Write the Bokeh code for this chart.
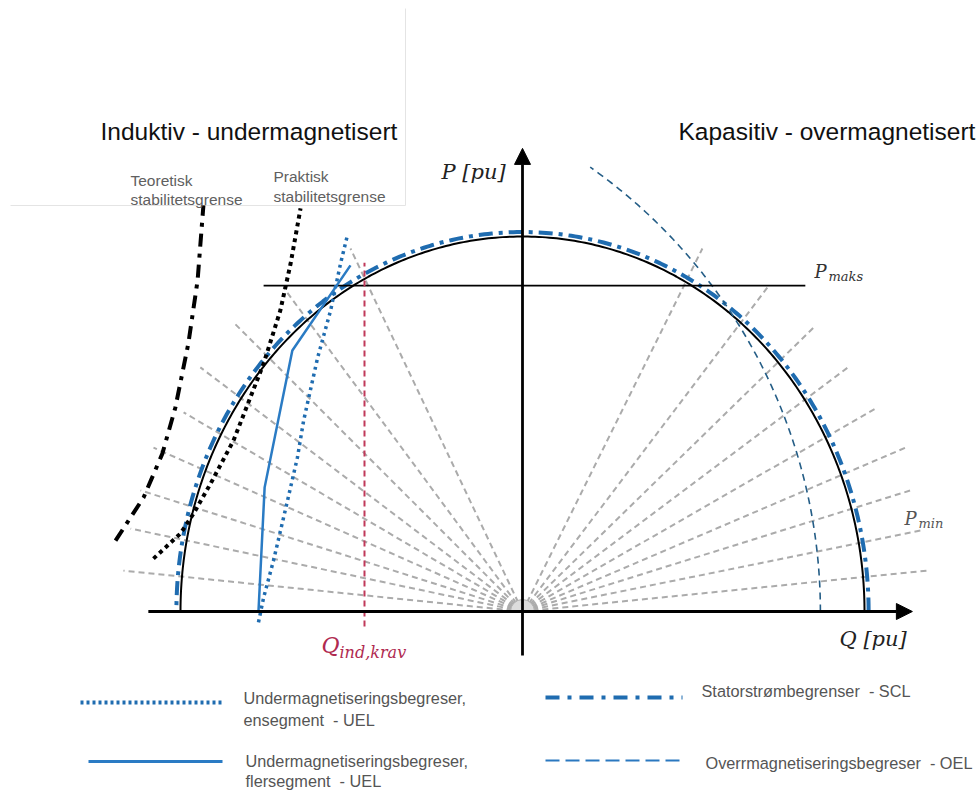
import numpy as np
from bokeh.plotting import figure
from bokeh.models import Arrow, NormalHead
from bokeh.core.properties import value
from bokeh.embed import file_html
from bokeh.resources import INLINE

# ---- chart values (per-unit, Q horizontal / P vertical) ----
circle_radius = 1.0          # machine rating circle
scl_radius = 1.012           # stator current limiter
p_maks = 0.869
p_maks_q = [-0.757, 0.827]
q_ind_krav = -0.462
q_ind_krav_p = [-0.04, 0.93]

# over-excitation limiter: arc centred on the Q axis
oel_center_q = -0.718
oel_radius_q = 1.589
oel_radius_p = 1.450
oel_end_deg = 54.8

# under-excitation limiter, single segment
uel1_q = [-0.772, -0.757, -0.728, -0.687, -0.658, -0.640, -0.599, -0.561, -0.532, -0.512]
uel1_p = [-0.029, 0.037, 0.136, 0.296, 0.411, 0.509, 0.677, 0.803, 0.928, 1.003]

# under-excitation limiter, multi segment
uel2_q = [-0.772, -0.754, -0.673, -0.503]
uel2_p = [0.0, 0.331, 0.696, 0.923]

# theoretical stability limit
teo_q = [-1.190, -1.108, -1.053, -1.015, -0.977, -0.950, -0.933]
teo_p = [0.189, 0.304, 0.421, 0.544, 0.715, 0.883, 1.083]

# practical stability limit
prak_q = [-1.079, -1.000, -0.962, -0.912, -0.845, -0.757, -0.708, -0.678, -0.649]
prak_p = [0.141, 0.208, 0.261, 0.341, 0.456, 0.661, 0.803, 0.928, 1.075]

# power-factor rays from the origin
ray_left_q = [-1.167, -1.146, -1.117, -1.079, -0.991, -0.942, -0.845, -0.699, -0.503]
ray_left_p = [0.109, 0.221, 0.323, 0.437, 0.531, 0.651, 0.771, 0.864, 0.968]
ray_right_q = [1.184, 1.164, 1.135, 1.120, 1.038, 0.959, 0.851, 0.716, 0.526]
ray_right_p = [0.109, 0.216, 0.323, 0.437, 0.544, 0.656, 0.757, 0.864, 0.968]

# axes extents
q_axis = [-1.094, 1.140]
p_axis = [-0.117, 1.235]

W, H = 980, 791
OX, OY = 522, 611        # origin on the canvas
SX, SY = 342, 375        # pixels per pu


def X(px):
    return (px - OX) / SX


def Y(py):
    return (OY - py) / SY


p = figure(width=W, height=H, x_range=(X(0), X(W)), y_range=(Y(H), Y(0)),
           output_backend="svg", toolbar_location=None,
           x_axis_type=None, y_axis_type=None, min_border=0)
p.xgrid.visible = False
p.ygrid.visible = False
p.outline_line_color = None
p.background_fill_color = "white"
p.border_fill_color = "white"

SANS = value("Liberation Sans")
SERIF = value("DejaVu Serif")
BLUE = "#1f6cb0"
NB = "\u00a0"

# faint frame around the upper-left caption block
p.line([X(405), X(405)], [Y(8), Y(205)], line_color="#e4e4e4", line_width=1)
p.line([X(10), X(405)], [Y(205), Y(205)], line_color="#e4e4e4", line_width=1)

# rays
xs = [[0, q] for q in ray_left_q + ray_right_q]
ys = [[0, pp] for pp in ray_left_p + ray_right_p]
p.multi_line(xs, ys, line_color="#ababab", line_width=2, line_dash="6 4")
p.wedge(x=0, y=0, radius=12 / SX, start_angle=0, end_angle=np.pi,
        fill_color="#dcdcdc", line_color="#b0b0b0", line_width=1)

# rating circle
th = np.linspace(0, np.pi, 300)
p.line(circle_radius * np.cos(th), circle_radius * np.sin(th),
       line_color="black", line_width=2)

# stator current limiter
p.line(scl_radius * np.cos(th), scl_radius * np.sin(th),
       line_color=BLUE, line_width=4, line_dash="14 6 4 6")

# over-excitation limiter
to = np.linspace(0, np.radians(oel_end_deg), 200)
p.line(oel_center_q + oel_radius_q * np.cos(to), oel_radius_p * np.sin(to),
       line_color="#245d86", line_width=1.6, line_dash="7 5")

# P maks line
p.line(p_maks_q, [p_maks, p_maks], line_color="black", line_width=1.8)

# Q ind,krav
p.line([q_ind_krav, q_ind_krav], q_ind_krav_p, line_color="#c0395a",
       line_width=2, line_dash="6 4")

# stability limits
p.line(teo_q, teo_p, line_color="black", line_width=4, line_dash="13 7 4 7")
p.line(prak_q, prak_p, line_color="black", line_width=4, line_dash="4 4")

# under-excitation limiters
p.line(uel1_q, uel1_p, line_color=BLUE, line_width=3.5, line_dash="3 4")
p.line(uel2_q, uel2_p, line_color="#2a7bc4", line_width=2.5)

# axes with arrow heads
p.add_layout(Arrow(end=NormalHead(size=16, fill_color="black", line_color="black"),
                   x_start=q_axis[0], y_start=0, x_end=q_axis[1], y_end=0,
                   line_color="black", line_width=2.8))
p.add_layout(Arrow(end=NormalHead(size=16, fill_color="black", line_color="black"),
                   x_start=0, y_start=p_axis[0], x_end=0, y_end=p_axis[1],
                   line_color="black", line_width=2.8))


def txt(px, py, s, size, color="#111111", font=SANS, style="normal", align="left"):
    p.text(x=[X(px)], y=[Y(py)], text=[s], text_font=font,
           text_font_size=f"{size}px", text_color=color, text_font_style=style,
           text_align=align, text_baseline="middle")


# region headings
txt(100, 131, "Induktiv - undermagnetisert", 24.5)
txt(678, 131, "Kapasitiv - overmagnetisert", 24.5)
txt(130, 180, "Teoretisk", 15.5, "#606060")
txt(130, 199, "stabilitetsgrense", 15.5, "#606060")
txt(273, 176, "Praktisk", 15.5, "#606060")
txt(273, 196, "stabilitetsgrense", 15.5, "#606060")

# axis and limit labels
txt(441, 171, "P [pu]", 21, "#222222", SERIF, "italic")
txt(839, 638, "Q [pu]", 21, "#222222", SERIF, "italic")
txt(814, 271, "P", 18, "#333333", SERIF, "italic")
txt(828, 276, "maks", 13, "#333333", SERIF, "italic")
txt(904, 518, "P", 18, "#555555", SERIF, "italic")
txt(918, 523, "min", 13, "#555555", SERIF, "italic")
txt(321, 645, "Q", 22, "#b02a50", SERIF, "italic")
txt(339, 652, "ind,krav", 16, "#b02a50", SERIF, "italic")

# legend
p.line([X(80), X(222)], [Y(702), Y(702)], line_color=BLUE, line_width=4, line_dash="3 3")
p.line([X(88), X(222)], [Y(761), Y(761)], line_color="#2a7bc4", line_width=3)
p.line([X(545), X(682)], [Y(697), Y(697)], line_color=BLUE, line_width=4, line_dash="14 8 4 8")
p.line([X(545), X(680)], [Y(760), Y(760)], line_color="#2a78c0", line_width=1.8, line_dash="14 6")
txt(243, 697, "Undermagnetiseringsbegreser,", 16.3, "#555555")
txt(243, 719, f"ensegment{NB}{NB}- UEL", 16.3, "#555555")
txt(245, 760, "Undermagnetiseringsbegreser,", 16.3, "#555555")
txt(245, 780, f"flersegment{NB}{NB}- UEL", 16.3, "#555555")
txt(701, 690, f"Statorstrømbegrenser{NB}{NB}- SCL", 16.3, "#555555")
txt(705, 762, f"Overrmagnetiseringsbegreser{NB}{NB}- OEL", 16.3, "#555555")

open("out.html", "w").write(file_html(p, INLINE))
